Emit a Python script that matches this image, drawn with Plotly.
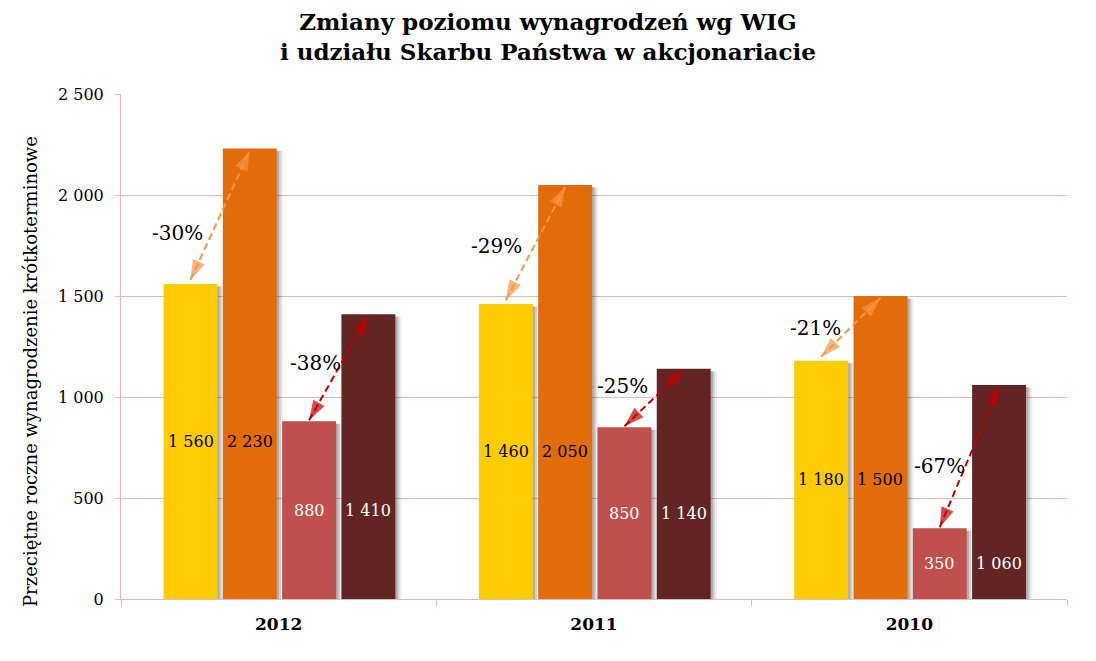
import plotly.graph_objects as go

years = ["2012", "2011", "2010"]
series_names = ["A", "B", "C", "D"]
v_yellow = [1560, 1460, 1180]
v_orange = [2230, 2050, 1500]
v_red = [880, 850, 350]
v_dark = [1410, 1140, 1060]
y_ticks = [0, 500, 1000, 1500, 2000, 2500]

colors = ["#FFCC00", "#E36C0A", "#C0504D", "#632523"]
label_colors = ["black", "black", "white", "white"]
offsets = [-0.365, -0.177, 0.011, 0.199]
bw = 0.171
SERIF = "DejaVu Serif"

# page body has an 8px margin; the figure is sized/margined to compensate
FIG_W, FIG_H = 1080, 645
ML, MR, MT, MB = 113, 21, 86, 54
PW = FIG_W - ML - MR
PH = FIG_H - MT - MB


def fmt_sp(v):
    return f"{v:,}".replace(",", " ")


def px_to_paper(px, py):
    # page pixel -> paper coords
    fx, fy = px - 8, py - 8
    return (fx - ML) / PW, (FIG_H - MB - fy) / PH


values = [v_yellow, v_orange, v_red, v_dark]
xs = list(range(len(years)))

fig = go.Figure()

# shadows
for vals, off in zip(values, offsets):
    for dx, alpha in [(0.020, 0.07), (0.013, 0.12), (0.007, 0.16)]:
        fig.add_trace(go.Bar(
            x=xs, y=[v - 12 for v in vals], width=bw, offset=off + dx,
            marker=dict(color=f"rgba(0,0,0,{alpha})", line=dict(width=0)),
            hoverinfo="skip", showlegend=False))

# bars
for name, vals, off, col in zip(series_names, values, offsets, colors):
    fig.add_trace(go.Bar(
        x=xs, y=vals, width=bw, offset=off, name=name,
        marker=dict(color=col, line=dict(width=0)), showlegend=False))

# value labels (pairs share height of left bar midpoint)
for i in range(len(years)):
    pair_heights = [v_yellow[i] / 2, v_yellow[i] / 2, v_red[i] / 2, v_red[i] / 2]
    for s, (vals, off) in enumerate(zip(values, offsets)):
        fig.add_annotation(
            x=xs[i] + off + bw / 2, y=pair_heights[s], xref="x", yref="y",
            text=fmt_sp(vals[i]), showarrow=False,
            font=dict(family=SERIF, size=16, color=label_colors[s]))


# arrows
def add_arrow(x0, y0, x1, y1, color):
    xm, ym = (x0 + x1) / 2, (y0 + y1) / 2
    fig.add_trace(go.Scatter(
        x=[x0, x1], y=[y0, y1], mode="lines",
        line=dict(color=color, width=2, dash="7px,4px"),
        hoverinfo="skip", showlegend=False))
    for (xa, ya) in [(x0, y0), (x1, y1)]:
        fig.add_trace(go.Scatter(
            x=[xm, xa], y=[ym, ya], mode="markers",
            marker=dict(symbol="arrow", angleref="previous", size=[0, 21],
                        color=color, line=dict(width=0)),
            hoverinfo="skip", showlegend=False))


c_yel = offsets[0] + bw / 2
c_ora = offsets[1] + bw / 2
c_red = offsets[2] + bw / 2
c_dark = offsets[3] + bw / 2

pct_top_pos = [(-0.32, 1812), (-0.308, 1747), (-0.299, 1341)]
pct_bot_pos = [(0.118, 1168), (0.089, 1054), (0.097, 658)]

for i in range(len(years)):
    add_arrow(xs[i] + c_yel, v_yellow[i] + 20, xs[i] + c_ora, v_orange[i] - 10, "#F79646")
    add_arrow(xs[i] + c_red, v_red[i] + 5, xs[i] + c_dark, v_dark[i] - 5, "#C00000")
    p1 = round((v_yellow[i] / v_orange[i] - 1) * 100)
    p2 = round((v_red[i] / v_dark[i] - 1) * 100)
    fig.add_annotation(x=xs[i] + pct_top_pos[i][0], y=pct_top_pos[i][1], text=f"{p1}%",
                       showarrow=False, font=dict(family=SERIF, size=20, color="black"))
    fig.add_annotation(x=xs[i] + pct_bot_pos[i][0], y=pct_bot_pos[i][1], text=f"{p2}%",
                       showarrow=False, font=dict(family=SERIF, size=20, color="black"))

grid = "#E6B9B8"
fig.update_layout(
    width=FIG_W, height=FIG_H,
    margin=dict(l=ML, r=MR, t=MT, b=MB),
    paper_bgcolor="white", plot_bgcolor="white",
    barmode="overlay",
    xaxis=dict(
        range=[-0.5, 2.5], tickvals=xs, ticktext=years, ticks="",
        showgrid=False, zeroline=False, showline=True, linecolor=grid, linewidth=1,
        tickfont=dict(family=SERIF, size=17, color="black", weight="bold"),
        ticklabelstandoff=10,
        minor=dict(tickvals=[-0.5, 0.5, 1.5, 2.5], ticks="outside", ticklen=6,
                   tickcolor=grid, showgrid=False),
    ),
    yaxis=dict(
        range=[0, 2500], tickvals=y_ticks, ticktext=[fmt_sp(t) for t in y_ticks],
        showgrid=True, gridcolor=grid, gridwidth=1, zeroline=False,
        showline=True, linecolor=grid, linewidth=1,
        ticks="outside", ticklen=5, tickcolor=grid,
        tickfont=dict(family=SERIF, size=16, color="black"),
        ticklabelstandoff=8,
    ),
    font=dict(family=SERIF),
)

tx, ty = px_to_paper(548, 37)
fig.add_annotation(
    x=tx, y=ty, xref="paper", yref="paper", xanchor="center", yanchor="middle",
    text="<b>Zmiany poziomu wynagrodzeń wg WIG<br>i udziału Skarbu Państwa w akcjonariacie</b>",
    showarrow=False, borderpad=0, font=dict(family=SERIF, size=23, color="black"))

ax_, ay_ = px_to_paper(30, 372)
fig.add_annotation(
    x=ax_, y=ay_, xref="paper", yref="paper", xanchor="center", yanchor="middle",
    text="Przeciętne roczne wynagrodzenie krótkoterminowe",
    showarrow=False, textangle=-90,
    font=dict(family=SERIF, size=18, color="black"))

fig.write_html("out.html")
